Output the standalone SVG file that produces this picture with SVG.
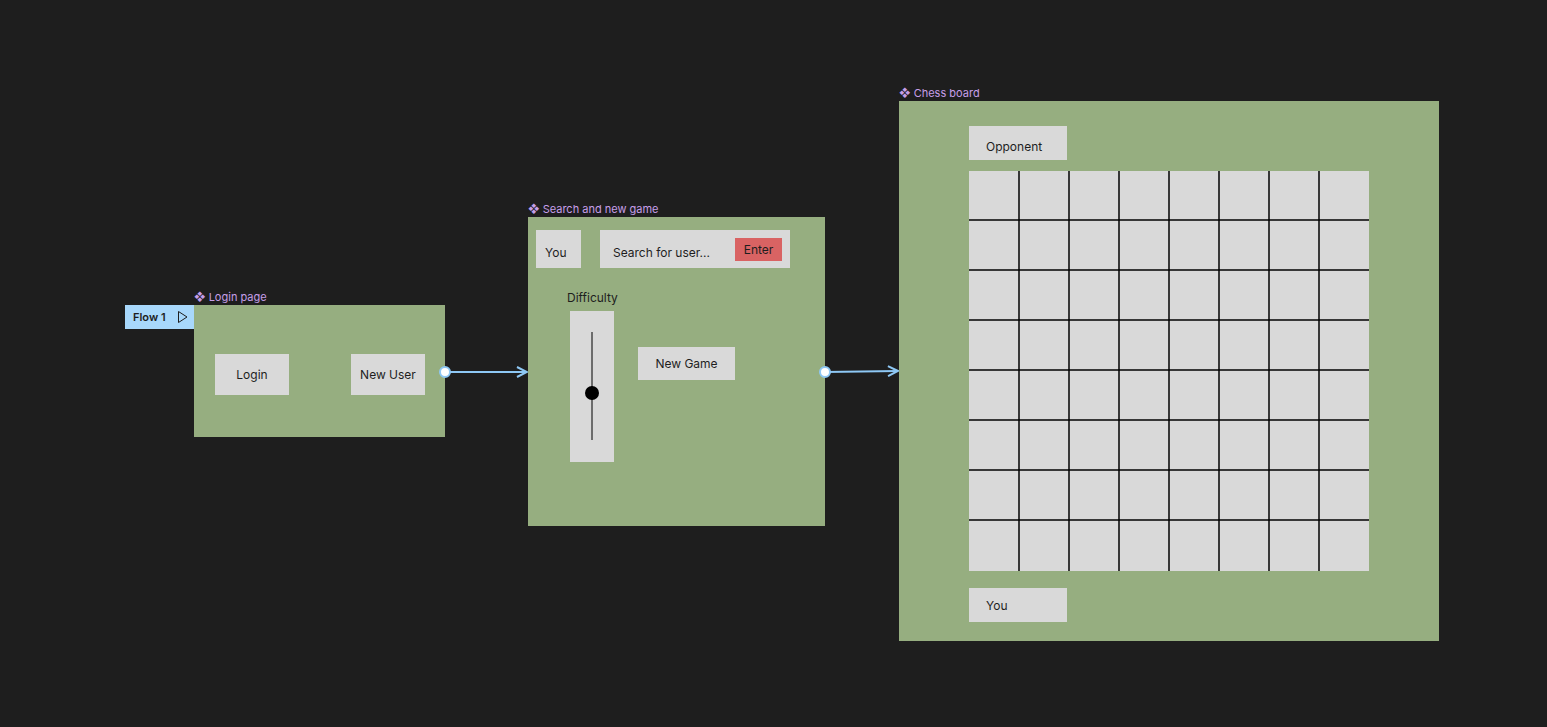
<svg xmlns="http://www.w3.org/2000/svg" width="1547" height="727" viewBox="0 0 1547 727">
<defs>
<style>
.frame{fill:#96ae80}
.box{fill:#d9d9d9}
.t{font-family:Inter,"Liberation Sans",sans-serif;font-size:12px;fill:#1e1e1e}
.lbl{font-family:Inter,"Liberation Sans",sans-serif;font-size:11px;fill:#c69ee8}
.grid line{stroke:#000;stroke-width:1.5}
.conn{stroke:#8ec8f5;stroke-width:2;fill:none}
.dot{fill:#fff;stroke:#8ec8f5;stroke-width:2}
</style>
<marker id="arr" viewBox="0 0 12 12" refX="11" refY="6" markerWidth="12" markerHeight="12" markerUnits="userSpaceOnUse" orient="auto">
<path d="M1,1 L11,6 L1,11" fill="none" stroke="#8ec8f5" stroke-width="2"/>
</marker>
</defs>
<rect width="1547" height="727" fill="#1e1e1e"/>

<g id="flow1">
<rect x="125" y="305" width="69" height="24" fill="#a8d8fb"/>
<text x="133" y="321" class="t" style="font-size:11px;font-weight:600">Flow 1</text>
<path d="M178.5,311.5 L187,317 L178.5,322.5 Z" fill="none" stroke="#1e1e1e" stroke-width="1"/>
</g>

<g id="login-page">
<text x="194" y="301" class="lbl">❖ Login page</text>
<rect class="frame" x="194" y="305" width="251" height="132"/>
<rect class="box" x="215" y="354" width="74" height="41"/>
<text x="252" y="379" class="t" text-anchor="middle">Login</text>
<rect class="box" x="351" y="354" width="74" height="41"/>
<text x="388" y="379" class="t" text-anchor="middle">New User</text>
</g>

<g id="search-page">
<text x="528" y="213" class="lbl">❖ Search and new game</text>
<rect class="frame" x="528" y="217" width="297" height="309"/>
<rect class="box" x="536" y="230" width="45" height="38"/>
<text x="545" y="257" class="t">You</text>
<rect class="box" x="600" y="230" width="190" height="38"/>
<text x="613" y="257" class="t">Search for user...</text>
<rect x="735" y="238" width="47" height="23" fill="#d96363"/>
<text x="758.5" y="254" class="t" text-anchor="middle">Enter</text>
<text x="567" y="302" class="t">Difficulty</text>
<rect class="box" x="570" y="311" width="44" height="151"/>
<line x1="592" y1="332" x2="592" y2="440" stroke="#000" stroke-width="1"/>
<circle cx="592" cy="393" r="7" fill="#000"/>
<rect class="box" x="638" y="347" width="97" height="33"/>
<text x="686.5" y="368" class="t" text-anchor="middle">New Game</text>
</g>

<g id="chess-board">
<text x="899" y="97" class="lbl">❖ Chess board</text>
<rect class="frame" x="899" y="101" width="540" height="540"/>
<rect class="box" x="969" y="126" width="98" height="34"/>
<text x="986" y="151" class="t">Opponent</text>
<rect class="box" x="969" y="171" width="400" height="400"/>
<g class="grid">
<line x1="1019" y1="171" x2="1019" y2="571"/>
<line x1="1069" y1="171" x2="1069" y2="571"/>
<line x1="1119" y1="171" x2="1119" y2="571"/>
<line x1="1169" y1="171" x2="1169" y2="571"/>
<line x1="1219" y1="171" x2="1219" y2="571"/>
<line x1="1269" y1="171" x2="1269" y2="571"/>
<line x1="1319" y1="171" x2="1319" y2="571"/>
<line x1="969" y1="220" x2="1369" y2="220"/>
<line x1="969" y1="270" x2="1369" y2="270"/>
<line x1="969" y1="320" x2="1369" y2="320"/>
<line x1="969" y1="370" x2="1369" y2="370"/>
<line x1="969" y1="420" x2="1369" y2="420"/>
<line x1="969" y1="470" x2="1369" y2="470"/>
<line x1="969" y1="520" x2="1369" y2="520"/>
</g>
<rect class="box" x="969" y="588" width="98" height="34"/>
<text x="986" y="610" class="t">You</text>
</g>

<g id="connectors">
<line class="conn" x1="445" y1="372" x2="527" y2="372" marker-end="url(#arr)"/>
<circle class="dot" cx="445" cy="372" r="5"/>
<line class="conn" x1="825" y1="372" x2="898" y2="371" marker-end="url(#arr)"/>
<circle class="dot" cx="825" cy="372" r="5"/>
</g>
</svg>
